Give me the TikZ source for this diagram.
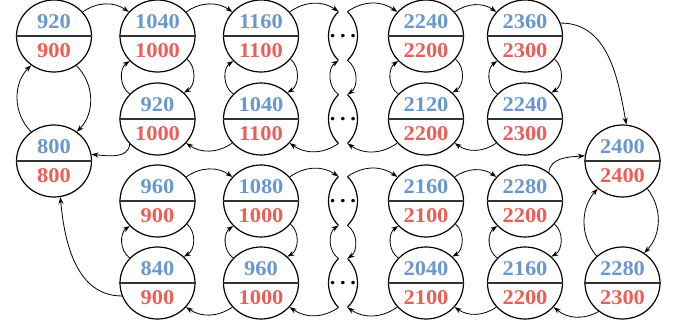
\documentclass[tikz,border=0pt]{standalone}
\usepackage{fontspec}
\setmainfont[FakeStretch=1.07]{Liberation Serif}
\usetikzlibrary{arrows.meta,shapes.geometric}
\definecolor{cblue}{RGB}{104,152,206}
\definecolor{cred}{RGB}{236,94,86}
\tikzset{
  cnode/.style={ellipse, draw, line width=1.2pt, minimum width=75pt, minimum height=72pt, inner sep=0pt},
  splitline/.style={line width=1.2pt, draw=black!80},
  numfont/.style={font=\fontsize{21}{24}\selectfont\bfseries},
  toptext/.style={numfont, inner sep=0pt, text=cblue},
  bottext/.style={numfont, inner sep=0pt, text=cred},
  dotsnode/.style={inner sep=0pt, font=\fontsize{21}{24}\selectfont\bfseries},
  dotsarc/.style={line width=1.2pt},
  arr/.style={-{Stealth[length=7pt,width=5pt]}, line width=0.8pt},
}
\newcommand\cnd[5]{%
  \node[cnode] (#1) at (#2,#3) {};
  \draw[splitline] (#1.west) -- (#1.east);
  \node[toptext] (#1-t) at ([yshift=14.5pt]#1.center) {#4};
  \node[bottext] (#1-b) at ([yshift=-14.5pt]#1.center) {#5};
}
\newcommand\dnd[3]{%
  \node[dotsnode] (#1) at (#2,#3) {.\kern0.22em.\kern0.22em.};
  \coordinate (#1-tl) at ([shift={(-4.5pt,24.5pt)}]#2pt,#3pt);
  \coordinate (#1-tr) at ([shift={(4.5pt,24.5pt)}]#2pt,#3pt);
  \coordinate (#1-bl) at ([shift={(-4.5pt,-24.5pt)}]#2pt,#3pt);
  \coordinate (#1-br) at ([shift={(4.5pt,-24.5pt)}]#2pt,#3pt);
  \draw[dotsarc] (#1-tl) arc[start angle=135.6, end angle=224.4, radius=35pt];
  \draw[dotsarc] (#1-br) arc[start angle=-44.4, end angle=44.4, radius=35pt];
}
\begin{document}
\begin{tikzpicture}[x=1pt,y=1pt]
\useasboundingbox (0,0) rectangle (678,325);
% top section
\cnd{A1}{54}{289}{920}{900}
\cnd{B1}{157.5}{289}{1040}{1000}
\cnd{C1}{261}{289}{1160}{1100}
\dnd{d1}{343}{289}
\cnd{D1}{426}{289}{2240}{2200}
\cnd{E1}{525}{289}{2360}{2300}
\cnd{B2}{157.5}{206}{920}{1000}
\cnd{C2}{261}{206}{1040}{1100}
\dnd{d2}{343}{206}
\cnd{D2}{426}{206}{2120}{2200}
\cnd{E2}{525}{206}{2240}{2300}
% middle
\cnd{A2}{54}{164}{800}{800}
\cnd{R1}{622.5}{164}{2400}{2400}
% bottom section
\cnd{F1}{157.5}{124}{960}{900}
\cnd{G1}{261}{124}{1080}{1000}
\dnd{d3}{343}{124}
\cnd{H1}{426}{124}{2160}{2100}
\cnd{I1}{525}{124}{2280}{2200}
\cnd{F2}{157.5}{42}{840}{900}
\cnd{G2}{261}{42}{960}{1000}
\dnd{d4}{343}{42}
\cnd{H2}{426}{42}{2040}{2100}
\cnd{I2}{525}{42}{2160}{2200}
\cnd{R2}{622.5}{42}{2280}{2300}

% top row rightwards
\draw[arr] (A1.40) to[bend left=35] (B1.140);
\draw[arr] (B1.40) to[bend left=35] (C1.140);
\draw[arr] (C1.40) to[bend left=35] (d1-tl);
\draw[arr] (d1-tr) to[bend left=35] (D1.140);
\draw[arr] (D1.40) to[bend left=35] (E1.140);
\draw[arr] (E1.20) to[out=0,in=100] (R1.84);
% second row leftwards
\draw[arr] (B2.222) to[out=-95,in=-5] (A2.10);
\draw[arr] (C2.220) to[bend left=35] (B2.-40);
\draw[arr] (d2-bl) to[bend left=35] (C2.-40);
\draw[arr] (D2.220) to[bend left=35] (d2-br);
\draw[arr] (E2.220) to[bend left=35] (D2.-40);
% vertical pairs top section
\draw[arr] (A1.-53) to[bend left=45] (A2.52);
\draw[arr] (A2.128) to[bend left=45] (A1.232);
\draw[arr] (B1.-38) to[bend left=55] (B2.45);
\draw[arr] (B2.138) to[bend left=55] (B1.222);
\draw[arr] (C1.-38) to[bend left=55] (C2.45);
\draw[arr] (C2.138) to[bend left=55] (C1.222);
\draw[arr] (d1-br) to[bend left=55] (d2-tr);
\draw[arr] (d2-tl) to[bend left=55] (d1-bl);
\draw[arr] (D1.-38) to[bend left=55] (D2.45);
\draw[arr] (D2.138) to[bend left=55] (D1.222);
\draw[arr] (E1.-38) to[bend left=55] (E2.45);
\draw[arr] (E2.138) to[bend left=55] (E1.222);
% right pair
\draw[arr] (R1.-48) to[bend left=40] (R2.54);
\draw[arr] (R2.134) to[bend left=40] (R1.228);
% third row rightwards
\draw[arr] (F1.40) to[bend left=35] (G1.140);
\draw[arr] (G1.40) to[bend left=35] (d3-tl);
\draw[arr] (d3-tr) to[bend left=35] (H1.140);
\draw[arr] (H1.40) to[bend left=35] (I1.140);
\draw[arr] (I1.50) to[out=85,in=185] (R1.172);
% fourth row leftwards
\draw[arr] (R2.230) to[bend left=35] (I2.-40);
\draw[arr] (I2.220) to[bend left=35] (H2.-40);
\draw[arr] (H2.220) to[bend left=35] (d4-br);
\draw[arr] (d4-bl) to[bend left=35] (G2.-40);
\draw[arr] (G2.220) to[bend left=35] (F2.-40);
\draw[arr] (F2.200) to[out=180,in=-85] (A2.-80);
% vertical pairs bottom section
\draw[arr] (F1.-38) to[bend left=55] (F2.45);
\draw[arr] (F2.138) to[bend left=55] (F1.222);
\draw[arr] (G1.-38) to[bend left=55] (G2.45);
\draw[arr] (G2.138) to[bend left=55] (G1.222);
\draw[arr] (d3-br) to[bend left=55] (d4-tr);
\draw[arr] (d4-tl) to[bend left=55] (d3-bl);
\draw[arr] (H1.-38) to[bend left=55] (H2.45);
\draw[arr] (H2.138) to[bend left=55] (H1.222);
\draw[arr] (I1.-38) to[bend left=55] (I2.45);
\draw[arr] (I2.138) to[bend left=55] (I1.222);
\end{tikzpicture}
\end{document}
